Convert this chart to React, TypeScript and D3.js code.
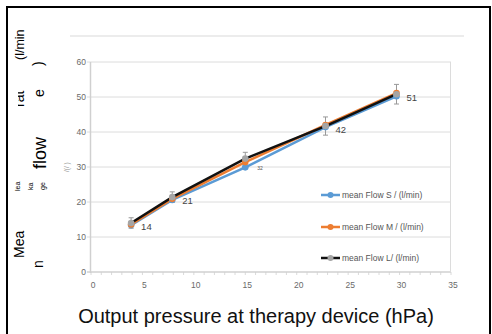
import React from "react";
import * as d3 from "d3";

const pressures = [3.9, 7.9, 15, 22.8, 29.7];
const flowS = [13.4, 20.6, 29.9, 41.4, 50.2];
const flowM = [13.6, 20.9, 31.4, 42.0, 51.1];
const flowL = [14.0, 21.4, 32.4, 41.7, 50.8];
const errL = [1.5, 1.5, 1.8, 2.6, 2.8];
const pointLabels = ["14", "21", "32", "42", "51"];
const xTicks = [0, 5, 10, 15, 20, 25, 30, 35];
const yTicks = [0, 10, 20, 30, 40, 50, 60];
const seriesNames = ["mean Flow S / (l/min)", "mean Flow M / (l/min)", "mean Flow L/ (l/min)"];

const W = 492, H = 334;
const x = d3.scaleLinear().domain([0, 35]).range([91, 451]);
const y = d3.scaleLinear().domain([0, 60]).range([272, 62]);
const FONT = "'Liberation Sans', Arial, sans-serif";

export default function App() {
  const line = d3.line<number>().x((_, i) => x(pressures[i])).y((d) => y(d));
  const series = [
    { v: flowS, line: "#5B9BD5", mark: "#5B9BD5" },
    { v: flowM, line: "#ED7D31", mark: "#ED7D31" },
    { v: flowL, line: "#111111", mark: "#A5A5A5" },
  ];
  const minor = d3.range(0, 35.01, 1);
  const legendY = [195, 227, 258];
  const titleParts: [string, number, number, number, string][] = [
    ["Mea", 24, 258, 14, "#000"],
    ["n", 43, 268, 14, "#000"],
    ["lea", 20, 191, 7, "#000"],
    ["ka", 33, 190, 7, "#000"],
    ["ge", 45, 190, 7, "#000"],
    ["flow", 46, 169, 18, "#000"],
    ["e", 44, 97, 14, "#000"],
    ["(l/min", 24, 60, 12.5, "#000"],
    [")", 43, 66, 14, "#000"],
    ["/(/ )", 69, 172, 6.5, "#888"],
  ];
  return (
    <svg width={W} height={H} style={{ position: "absolute", left: 0, top: 0, background: "#fff" }}>
      <defs>
        <clipPath id="ratclip">
          <rect x={18} y={0} width={40} height={334} />
        </clipPath>
      </defs>
      <rect x={0} y={0} width={W} height={H} fill="#fff" />
      <path d={`M7,${H} V7 H490 V${H}`} fill="none" stroke="#000" strokeWidth={2} />
      <line x1={70} x2={464} y1={36} y2={36} stroke="#d9d9d9" strokeWidth={1} />
      {yTicks.map((t) => (
        <g key={t}>
          <line x1={87} x2={451} y1={y(t)} y2={y(t)} stroke={t === 0 ? "#d0d0d0" : "#dcdcdc"} strokeWidth={t === 0 ? 1.5 : 1} />
          <text x={86} y={y(t) + 3} fontSize={8.5} fill="#6a6a6a" textAnchor="end" fontFamily={FONT}>{t}</text>
        </g>
      ))}
      <line x1={90.5} x2={90.5} y1={62} y2={273} stroke="#d0d0d0" strokeWidth={1.5} />
      <line x1={450.5} x2={450.5} y1={62} y2={272} stroke="#dcdcdc" strokeWidth={1} />
      {minor.map((t) => (
        <line key={t} x1={x(t)} x2={x(t)} y1={272} y2={275} stroke="#d0d0d0" strokeWidth={0.8} />
      ))}
      {xTicks.map((t) => (
        <text key={t} x={x(t) + 2} y={288} fontSize={8.5} fill="#6a6a6a" textAnchor="middle" fontFamily={FONT}>{t}</text>
      ))}
      {series.map((s, k) => (
        <path key={k} d={line(s.v) || ""} fill="none" stroke={s.line} strokeWidth={2.5} strokeLinejoin="round" />
      ))}
      {flowL.map((v, i) => (
        <g key={i} stroke="#999" strokeWidth={1}>
          <line x1={x(pressures[i])} x2={x(pressures[i])} y1={y(v - errL[i])} y2={y(v + errL[i])} />
          <line x1={x(pressures[i]) - 2.5} x2={x(pressures[i]) + 2.5} y1={y(v - errL[i])} y2={y(v - errL[i])} />
          <line x1={x(pressures[i]) - 2.5} x2={x(pressures[i]) + 2.5} y1={y(v + errL[i])} y2={y(v + errL[i])} />
        </g>
      ))}
      {series.map((s, k) => (
        <g key={"m" + k}>
          {s.v.map((v, i) => (
            <circle key={i} cx={x(pressures[i])} cy={y(v)} r={3.3} fill={s.mark} />
          ))}
        </g>
      ))}
      {pointLabels.map((l, i) => (
        i === 2 ? (
          <text key={i} x={x(pressures[i]) + 12} y={y(flowL[i]) + 11} fontSize={5} fill="#555" fontFamily={FONT}>{l}</text>
        ) : (
          <text key={i} x={x(pressures[i]) + 10} y={y(flowL[i]) + 7} fontSize={9.5} fill="#444" fontFamily={FONT}>{l}</text>
        )
      ))}
      {series.map((s, k) => (
        <g key={"l" + k}>
          <line x1={321} x2={340} y1={legendY[k]} y2={legendY[k]} stroke={s.line} strokeWidth={2.5} />
          <circle cx={330.5} cy={legendY[k]} r={3} fill={s.mark} />
          <text x={342} y={legendY[k] + 3} fontSize={8.5} fill="#555" fontFamily={FONT}>{seriesNames[k]}</text>
        </g>
      ))}
      <text x={256} y={323} fontSize={20} fill="#111" textAnchor="middle" fontFamily={FONT}>
        Output pressure at therapy device (hPa)
      </text>
      {titleParts.map(([t, tx, ty, fs, c], i) => (
        <text key={i} transform={`translate(${tx},${ty}) rotate(-90)`} fontSize={fs} fill={c} fontFamily={FONT}>{t}</text>
      ))}
      <g clipPath="url(#ratclip)">
        <text transform="translate(24,107) rotate(-90)" fontSize={14} fill="#000" fontFamily={FONT}>rat</text>
      </g>
    </svg>
  );
}
